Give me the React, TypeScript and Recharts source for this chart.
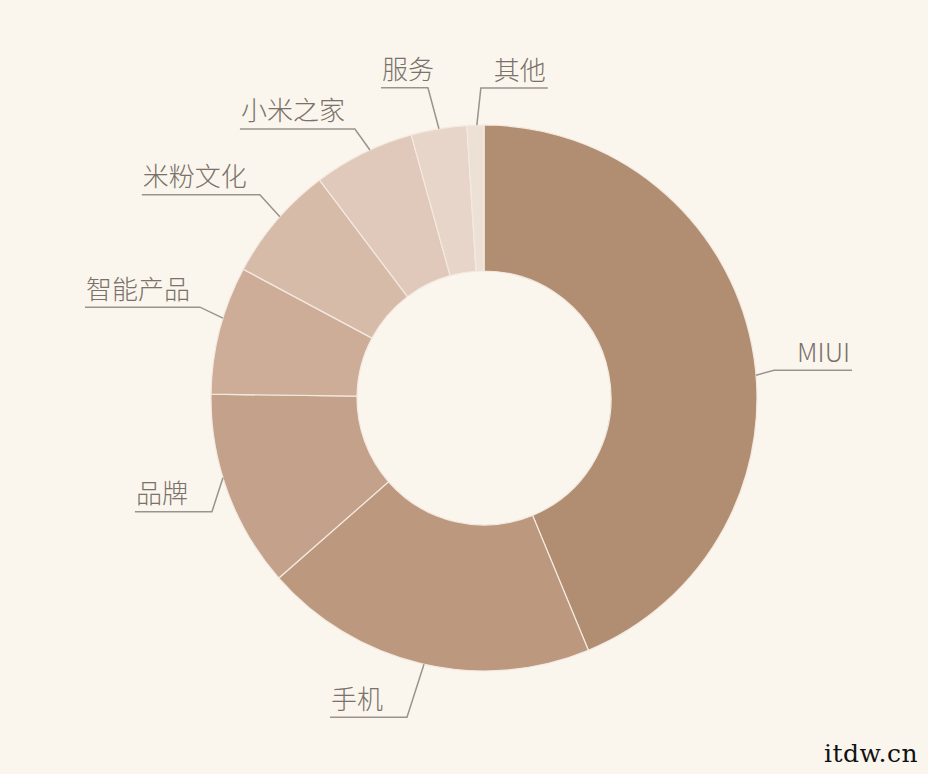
import React from 'react';
import { PieChart, Pie, Cell } from 'recharts';

// slice names and shares (%), clockwise from 12 o'clock
const names = ['MIUI', '手机', '品牌', '智能产品', '米粉文化', '小米之家', '服务', '其他'];
const shares = [43.8, 19.8, 11.7, 7.6, 6.9, 6.0, 3.3, 1.0];
const colors = ['#b18e72', '#bc987e', '#c3a18a', '#cdad98', '#d6bba9', '#e0c9ba', '#e6d5c8', '#ede1d6'];

const CX = 484;
const CY = 398;
const R_OUT = 273;
const R_IN = 127;

// label leader geometry: angle where the line leaves the ring, elbow offset, horizontal run
const leaders = [
  { angle: 4.8, dx: 18, dy: -5, run: 78 },
  { angle: 257.3, dx: -17, dy: 53, run: -77 },
  { angle: 197, dx: -11, dy: 34, run: -77 },
  { angle: 163, dx: -23, dy: -11, run: -115 },
  { angle: 138.4, dx: -20, dy: -22, run: -118 },
  { angle: 114.7, dx: -15, dy: -21, run: -115 },
  { angle: 99.5, dx: -11, dy: -41, run: -47 },
  { angle: 91.5, dx: 4, dy: -37, run: 67 },
];

const data = names.map((name, i) => ({ name, value: shares[i] }));

const renderLabel = (props: any) => {
  const { index, name } = props;
  const l = leaders[index];
  const rad = (l.angle * Math.PI) / 180;
  const x0 = CX + R_OUT * Math.cos(rad);
  const y0 = CY - R_OUT * Math.sin(rad);
  const x1 = x0 + l.dx;
  const y1 = y0 + l.dy;
  const x2 = x1 + l.run;
  const right = l.run > 0;
  return (
    <g key={`lbl-${index}`}>
      <polyline
        points={`${x0},${y0} ${x1},${y1} ${x2},${y1}`}
        fill="none"
        stroke="#9b938b"
        strokeWidth={1.5}
      />
      <text
        x={right ? x2 - 2 : x2 + 1}
        y={y1 - 20}
        textAnchor={right ? 'end' : 'start'}
        dominantBaseline="central"
        fill="#7a716a"
        fontSize={26}
        fontFamily="'Noto Sans CJK SC', 'Noto Sans', sans-serif"
        fontWeight={300}
      >
        {name}
      </text>
    </g>
  );
};

export default function App() {
  return (
    <div style={{ position: 'fixed', left: 0, top: 0, width: 928, height: 774, background: '#faf6ed', overflow: 'hidden' }}>
      <PieChart width={928} height={774} margin={{ top: 0, right: 0, bottom: 0, left: 0 }}>
        <Pie
          data={data}
          dataKey="value"
          nameKey="name"
          cx={CX}
          cy={CY}
          innerRadius={R_IN}
          outerRadius={R_OUT}
          startAngle={90}
          endAngle={-270}
          stroke="#f4e9e0"
          strokeWidth={1.2}
          label={renderLabel}
          labelLine={false}
          isAnimationActive={false}
        >
          {data.map((_, i) => (
            <Cell key={`cell-${i}`} fill={colors[i]} />
          ))}
        </Pie>
      </PieChart>
      <div
        style={{
          position: 'absolute',
          left: 824,
          top: 739,
          fontFamily: "'DejaVu Serif', 'Liberation Serif', serif",
          fontSize: 25,
          letterSpacing: 0.5,
          color: '#111',
          whiteSpace: 'nowrap',
        }}
      >
        itdw.cn
      </div>
    </div>
  );
}
